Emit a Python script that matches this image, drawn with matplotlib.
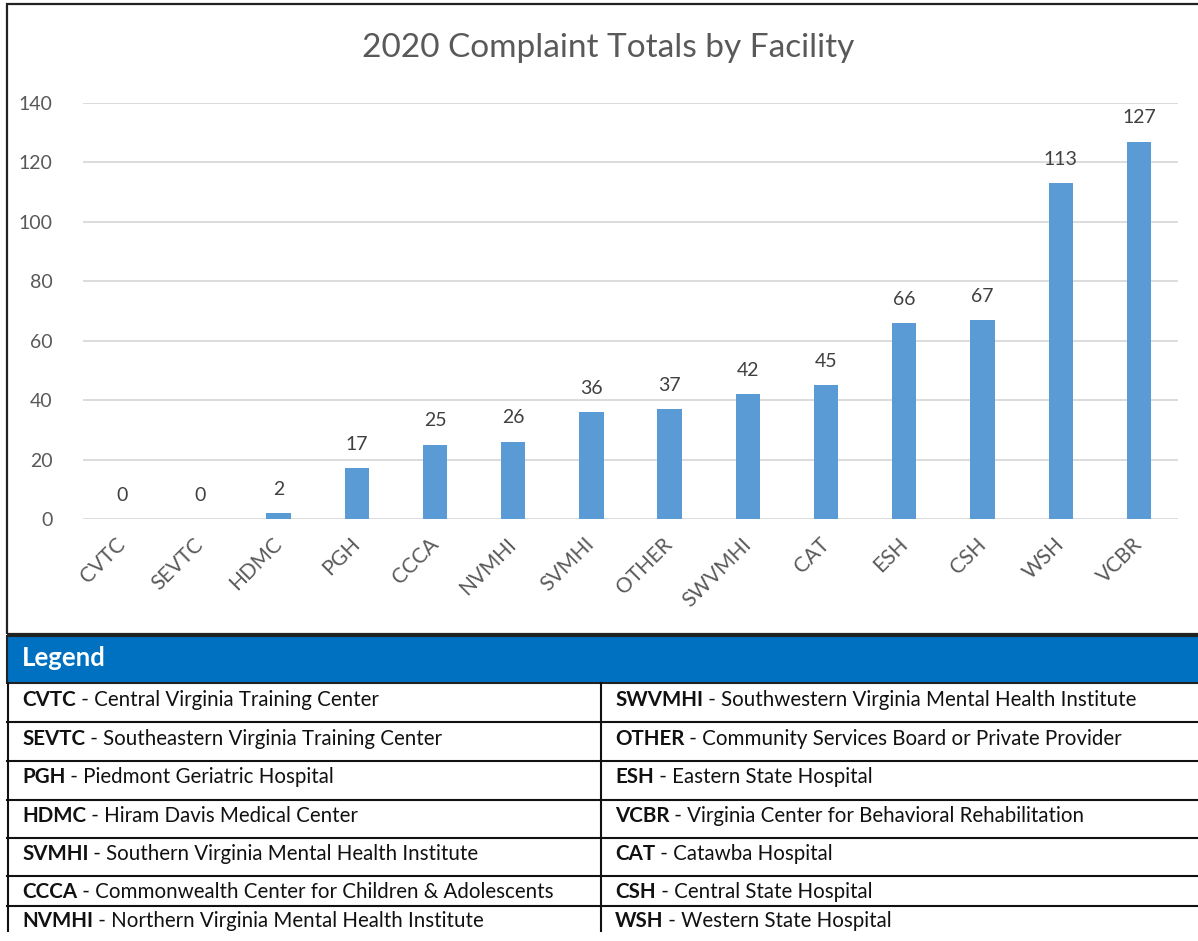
import matplotlib
matplotlib.use("Agg")
import matplotlib.pyplot as plt
from matplotlib.patches import Rectangle
from matplotlib.lines import Line2D

plt.rcParams['font.family'] = ['Lato', 'DejaVu Sans']

facilities = ["CVTC", "SEVTC", "HDMC", "PGH", "CCCA", "NVMHI", "SVMHI", "OTHER",
              "SWVMHI", "CAT", "ESH", "CSH", "WSH", "VCBR"]
complaints = [0, 0, 2, 17, 25, 26, 36, 37, 42, 45, 66, 67, 113, 127]
y_ticks = [0, 20, 40, 60, 80, 100, 120, 140]

legend_left = [("CVTC", "Central Virginia Training Center"),
               ("SEVTC", "Southeastern Virginia Training Center"),
               ("PGH", "Piedmont Geriatric Hospital"),
               ("HDMC", "Hiram Davis Medical Center"),
               ("SVMHI", "Southern Virginia Mental Health Institute"),
               ("CCCA", "Commonwealth Center for Children & Adolescents"),
               ("NVMHI", "Northern Virginia Mental Health Institute")]
legend_right = [("SWVMHI", "Southwestern Virginia Mental Health Institute"),
                ("OTHER", "Community Services Board or Private Provider"),
                ("ESH", "Eastern State Hospital"),
                ("VCBR", "Virginia Center for Behavioral Rehabilitation"),
                ("CAT", "Catawba Hospital"),
                ("CSH", "Central State Hospital"),
                ("WSH", "Western State Hospital")]

W, H = 1198, 941
fig = plt.figure(figsize=(W / 100, H / 100), dpi=100)

def fx(x):
    return x / W

def fy(y):
    return 1 - y / H

# chart border
fig.patches.append(Rectangle((fx(7), fy(634)), fx(1200 - 7), (634 - 4) / H,
                             transform=fig.transFigure, fill=False,
                             edgecolor="#222222", linewidth=1.6, clip_on=False))

ax = fig.add_axes([fx(83), fy(519), fx(1178 - 83), (519 - 103) / H])
x = list(range(len(facilities)))
ax.bar(x, complaints, width=0.31, color="#5B9BD5", zorder=3)
ax.set_xlim(-0.5, len(facilities) - 0.5)
ax.set_ylim(0, 140)
ax.set_yticks(y_ticks)
ax.set_yticklabels([str(t) for t in y_ticks], fontsize=14, color="#595959")
ax.yaxis.grid(True, color="#D9D9D9", linewidth=1.3, zorder=0)
ax.tick_params(axis='y', length=0, pad=22)
ax.tick_params(axis='x', length=0, pad=16)
ax.set_xticks(x)
ax.set_xticklabels(facilities, rotation=45, ha='right', va='center',
                   rotation_mode='anchor', fontsize=15, color="#595959")
for s in ax.spines.values():
    s.set_visible(False)
for xi, v in zip(x, complaints):
    ax.annotate(str(v), (xi, v), xytext=(0, 11), textcoords='offset points',
                ha='center', va='bottom', fontsize=14, color="#404040")

fig.text(fx(608), fy(48), "2020 Complaint Totals by Facility", ha='center', va='center',
         fontsize=24, color="#595959")

# Legend header
fig.patches.append(Rectangle((fx(7), fy(683)), fx(1200 - 7), (683 - 636) / H,
                             transform=fig.transFigure, facecolor="#0070C0",
                             edgecolor="#222222", linewidth=1.5))
fig.text(fx(22), fy(658), "Legend", ha='left', va='center', fontsize=18.5,
         fontweight='bold', color="white")

row_lines = [722, 761, 800, 838, 876, 906]
row_centers = [700, 739, 777, 816, 854, 892, 921]
lw = 1.5
for yy in row_lines:
    fig.add_artist(Line2D([fx(7), fx(1200)], [fy(yy), fy(yy)], color="#111111", linewidth=lw))
fig.add_artist(Line2D([fx(7.5), fx(7.5)], [fy(683), fy(931)], color="#111111", linewidth=lw))
fig.add_artist(Line2D([fx(601), fx(601)], [fy(683), fy(931)], color="#111111", linewidth=lw))

renderer = fig.canvas.get_renderer()
for col_x, items in ((22, legend_left), (615, legend_right)):
    for i, (abbr, desc) in enumerate(items):
        yc = row_centers[i]
        t = fig.text(fx(col_x), fy(yc), abbr, ha='left', va='center', fontsize=14.8,
                     fontweight='bold', color="#111111")
        bb = t.get_window_extent(renderer=renderer)
        fig.text(bb.x1 / W, fy(yc), " - " + desc, ha='left', va='center',
                 fontsize=14.8, color="#111111")

fig.savefig("out.png", dpi=100)
